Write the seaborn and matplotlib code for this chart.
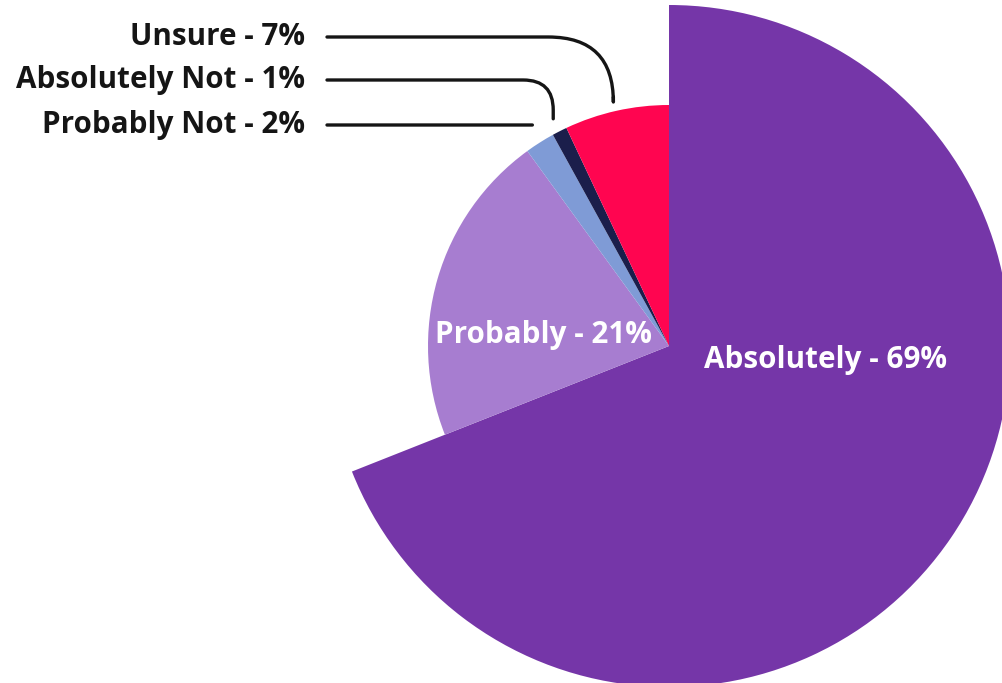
import matplotlib
matplotlib.use("Agg")
import matplotlib.pyplot as plt
import seaborn as sns
import numpy as np

sns.set_theme(style="white")
plt.rcParams['font.family'] = ['Open Sans', 'DejaVu Sans']

categories = ["Absolutely", "Probably", "Probably Not", "Absolutely Not", "Unsure"]
values = [69, 21, 2, 1, 7]
colors = ["#7536A8", "#A77DD0", "#7F9BD6", "#1B1E4B", "#FF0550"]
labels = [f"{c} - {v}%" for c, v in zip(categories, values)]

W, H = 1003, 683
fig = plt.figure(figsize=(W / 100, H / 100), dpi=100)
ax = fig.add_axes([0, 0, 1, 1])

cx, cy = 669, H - 346
r_small, r_big = 241, 341
wedges, _ = ax.pie(values, colors=colors, startangle=90, counterclock=False,
                   radius=r_small, center=(cx, cy),
                   wedgeprops=dict(linewidth=0))
wedges[0].set_radius(r_big)

ax.set_xlim(0, W)
ax.set_ylim(0, H)
ax.set_aspect('equal')
ax.axis('off')

fs = 21.3
# inside labels
ax.text(543, H - 335, labels[1], color="white", fontsize=fs, fontweight="bold",
        ha="center", va="center")
ax.text(826, H - 360, labels[0], color="white", fontsize=fs, fontweight="bold",
        ha="center", va="center")

# outside labels with connectors
outer = [(4, 37, 65), (3, 80, 30), (2, 125, 0)]
for idx, ty, rad in outer:
    w = wedges[idx]
    mid = np.deg2rad((w.theta1 + w.theta2) / 2)
    px = cx + 255 * np.cos(mid)
    py = cy + 255 * np.sin(mid)
    ax.text(305, H - ty, labels[idx], color="#151515", fontsize=fs,
            fontweight="bold", ha="right", va="center")
    if rad > 0:
        cs = f"angle,angleA=0,angleB=90,rad={rad}"
    else:
        cs = "arc3,rad=0"
        py = H - ty
    ax.annotate("", xy=(px, py), xytext=(327, H - ty),
                arrowprops=dict(arrowstyle="-", color="#151515", lw=2.4,
                                shrinkA=0, shrinkB=0, connectionstyle=cs))

fig.savefig("out.png", dpi=100)
